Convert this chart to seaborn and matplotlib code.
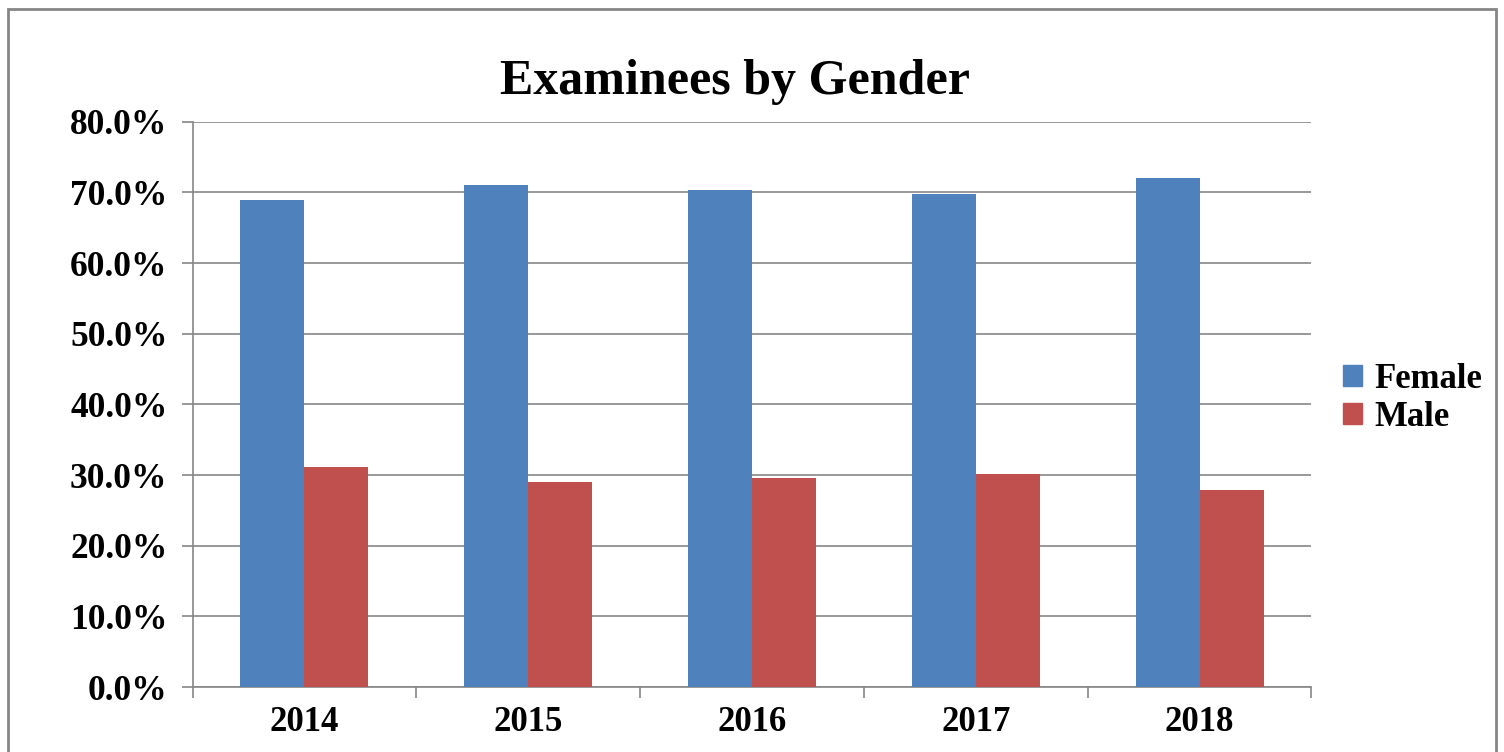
import matplotlib
matplotlib.use("Agg")
import matplotlib.pyplot as plt
import matplotlib.patches as mpatches
from matplotlib.ticker import FuncFormatter, FixedLocator
import pandas as pd
import seaborn as sns

# valores (%)
anos = ["2014", "2015", "2016", "2017", "2018"]
feminino = [68.9, 71.0, 70.4, 69.8, 72.1]
masculino = [31.1, 29.0, 29.6, 30.2, 27.9]
generos = ["Female", "Male"]
cores = {"Female": "#4F81BD", "Male": "#C0504D"}

df = pd.DataFrame({
    "ano": anos * 2,
    "pct": feminino + masculino,
    "genero": ["Female"] * len(anos) + ["Male"] * len(anos),
})

sns.set_theme(style="white")
plt.rcParams["font.family"] = ["Liberation Serif", "DejaVu Serif"]
plt.rcParams["font.weight"] = "bold"
plt.rcParams["text.color"] = "black"
plt.rcParams["xtick.color"] = "black"
plt.rcParams["ytick.color"] = "black"

fig = plt.figure(figsize=(15.04, 7.52), dpi=100)
ax = fig.add_axes([0.128, 0.0864, 0.744, 0.7516])

sns.barplot(data=df, x="ano", y="pct", hue="genero", hue_order=generos,
            palette=cores, width=0.572, saturation=1, ax=ax, legend=False,
            edgecolor="none", zorder=3)

cinza = "#868686"
ax.set_ylim(0, 80)
ax.set_xlim(-0.5, 4.5)
ax.set_yticks(range(0, 81, 10))
ax.yaxis.set_major_formatter(FuncFormatter(lambda v, _: f"{v:.1f}%"))
ax.xaxis.set_minor_locator(FixedLocator([i - 0.5 for i in range(len(anos) + 1)]))
ax.grid(axis="y", color=cinza, linewidth=1.2, zorder=0)
ax.set_axisbelow(True)
for lado in ["top", "right"]:
    ax.spines[lado].set_visible(False)
for lado in ["left", "bottom"]:
    ax.spines[lado].set_color(cinza)
    ax.spines[lado].set_linewidth(1.2)
ax.tick_params(axis="y", which="major", length=8, width=1.2, color=cinza,
               labelcolor="black", labelsize=25.5, pad=10, left=True)
ax.tick_params(axis="x", which="major", length=0, labelsize=25, pad=14,
               labelcolor="black")
ax.tick_params(axis="x", which="minor", length=8, width=1.2, color=cinza, bottom=True)
for t in ax.get_xticklabels() + ax.get_yticklabels():
    t.set_fontweight("bold")
ax.set_xlabel("")
ax.set_ylabel("")

fig.text(0.489, 0.875, "Examinees by Gender", ha="center", va="baseline",
         fontsize=36, fontweight="bold", color="black")

alcas = [mpatches.Patch(color=cores[g], label=g) for g in generos]
leg = fig.legend(handles=alcas, loc="center left", bbox_to_anchor=(0.893, 0.47),
                 frameon=False, prop={"size": 25, "weight": "bold"},
                 handlelength=0.55, handleheight=0.55, handletextpad=0.35,
                 labelspacing=0.15, borderpad=0, borderaxespad=0)
for t in leg.get_texts():
    t.set_color("black")

# moldura externa do gráfico
fig.patches.append(mpatches.Rectangle((0.005, -0.05), 0.99, 1.038,
                                      transform=fig.transFigure, fill=False,
                                      edgecolor=cinza, linewidth=2))

fig.savefig("out.png", dpi=100)
plt.close(fig)
